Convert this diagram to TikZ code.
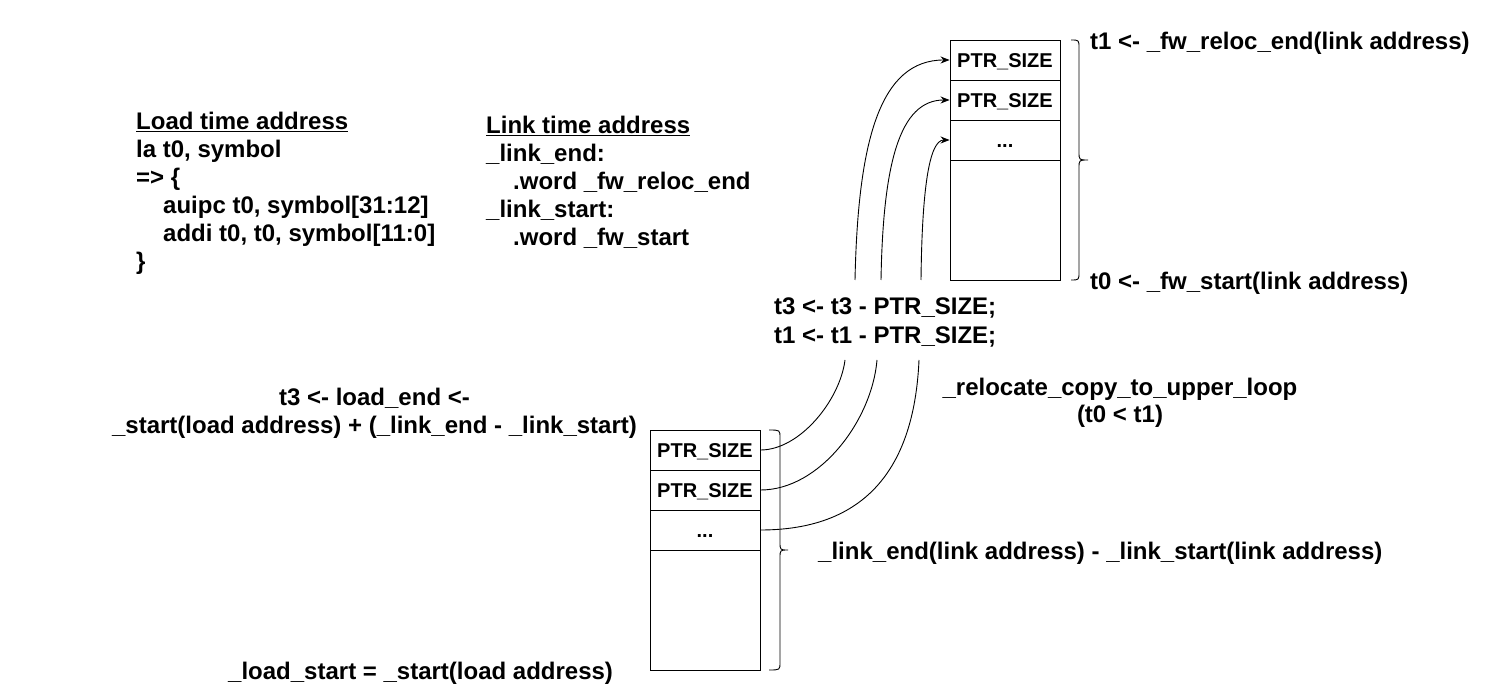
\documentclass[tikz,border=0pt]{standalone}
\usepackage{fontspec}
\setmainfont{Liberation Sans}
\usetikzlibrary{arrows.meta}
\begin{document}
\begin{tikzpicture}[x=1pt,y=-1pt,
  cell/.style={draw,line width=0.9pt,minimum width=110pt,inner sep=0pt,text height=14.3pt,text depth=0pt,font=\fontsize{20}{24}\selectfont\bfseries},
  lbl/.style={inner sep=0pt,font=\fontsize{24}{28}\selectfont\bfseries},
  wire/.style={line width=0.9pt},
  arr/.style={wire,-{Stealth[length=9pt,width=7pt]}},
  brace/.style={line width=0.9pt}]
\useasboundingbox (0,0) rectangle (1496,692);
% top memory block
\node[cell,minimum height=40pt] (t1) at (1005,60) {PTR\_SIZE};
\node[cell,minimum height=40pt] (t2) at (1005,100) {PTR\_SIZE};
\node[cell,minimum height=40pt] (t3) at (1005,140) {...};
\node[cell,minimum height=120pt] (t4) at (1005,220) {};
% bottom memory block
\node[cell,minimum height=40pt] (b1) at (705,450) {PTR\_SIZE};
\node[cell,minimum height=40pt] (b2) at (705,490) {PTR\_SIZE};
\node[cell,minimum height=40pt] (b3) at (705,530) {...};
\node[cell,minimum height=120pt] (b4) at (705,610) {};
% braces
\draw[brace] (1071,40) .. controls (1079,40) .. (1079,48) -- (1079,152) .. controls (1079,160) .. (1088,160) .. controls (1079,160) .. (1079,168) -- (1079,272) .. controls (1079,280) .. (1071,280);
\draw[brace] (769,430) .. controls (780,430) .. (780,438) -- (780,542) .. controls (780,550) .. (788,550) .. controls (780,550) .. (780,558) -- (780,662) .. controls (780,670) .. (769,670);
% connector end points
\coordinate (m1) at (845,360);
\coordinate (m2) at (877,360);
\coordinate (m3) at (919,360);
\coordinate (n1) at (855,280);
\coordinate (n2) at (881,280);
\coordinate (n3) at (921,280);
% lower connectors
\draw[wire] (b1.east) .. controls (800,450) and (840,400) .. (m1);
\draw[wire] (b2.east) .. controls (820,490) and (872,420) .. (m2);
\draw[wire] (b3.east) .. controls (880,530) and (915,450) .. (m3);
% upper connectors
\draw[arr] (n1) .. controls (858,140) and (880,60) .. (t1.west);
\draw[arr] (n2) .. controls (883,165) and (899,100) .. (t2.west);
\draw[arr] (n3) .. controls (922,190) and (929,140) .. (t3.west);
% labels
\node[lbl,anchor=base west,align=left] (load) at (136,269.5) {\underline{Load time address}\\la t0, symbol\\=> \{\\\hspace*{27pt}auipc t0, symbol[31:12]\\\hspace*{27pt}addi t0, t0, symbol[11:0]\\\}};
\node[lbl,anchor=base west,align=left] (link) at (486,245.5) {\underline{Link time address}\\\_link\_end:\\\hspace*{27pt}.word \_fw\_reloc\_end\\\_link\_start:\\\hspace*{27pt}.word \_fw\_start};
\node[lbl,anchor=base west] (tone) at (1090,49.5) {t1 <- \_fw\_reloc\_end(link address)};
\node[lbl,anchor=base west] (tzero) at (1090,289.5) {t0 <- \_fw\_start(link address)};
\node[lbl,anchor=base west,align=left,font=\fontsize{24}{29}\selectfont\bfseries] (step) at (774,343.5) {t3 <- t3 - PTR\_SIZE;\\t1 <- t1 - PTR\_SIZE;};
\node[lbl,anchor=base,align=center,font=\fontsize{24}{27}\selectfont\bfseries] (loop) at (1120,422.5) {\_relocate\_copy\_to\_upper\_loop\\(t0 < t1)};
\node[lbl,anchor=base,align=center] (loadend) at (374.5,433.5) {t3 <- load\_end <-\\\_start(load address) + (\_link\_end - \_link\_start)};
\node[lbl,anchor=base west] (diff) at (818,559.5) {\_link\_end(link address) - \_link\_start(link address)};
\node[lbl,anchor=base west] (lstart) at (228,679.5) {\_load\_start = \_start(load address)};
\end{tikzpicture}
\end{document}
